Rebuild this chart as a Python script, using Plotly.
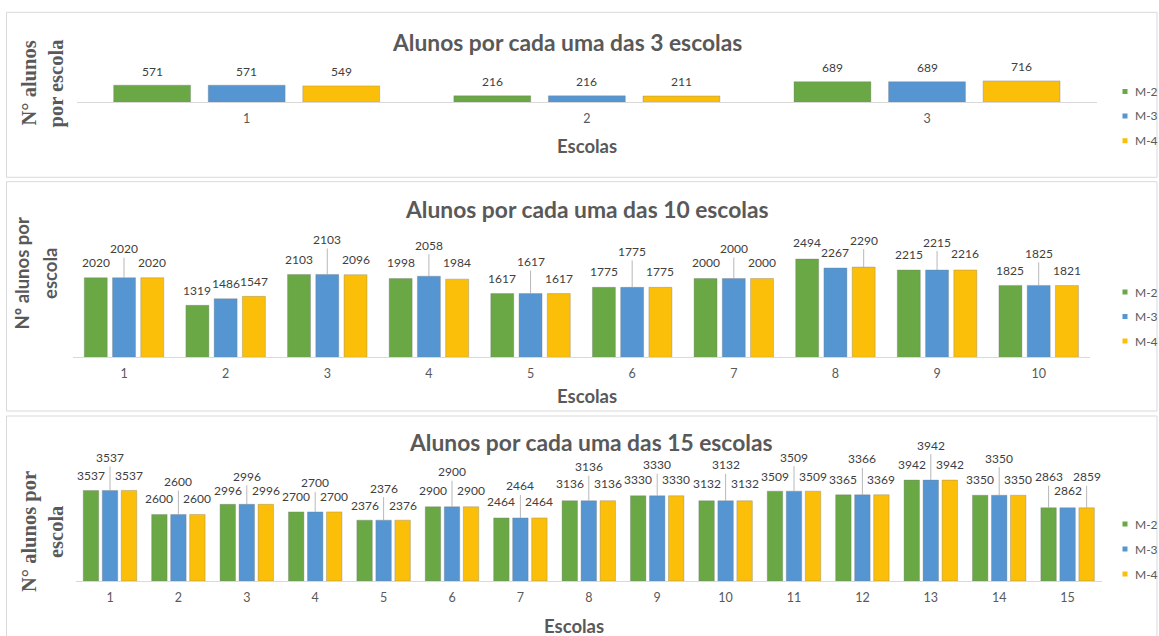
import plotly.graph_objects as go

W, H = 1159, 636

# ---- data -------------------------------------------------------------
series_names = ["M-2", "M-3", "M-4"]
series_colors = ["#69a845", "#5596d2", "#fbbf0a"]

escolas_3 = ["1", "2", "3"]
m2_3 = [571, 216, 689]
m3_3 = [571, 216, 689]
m4_3 = [549, 211, 716]

escolas_10 = ["1", "2", "3", "4", "5", "6", "7", "8", "9", "10"]
m2_10 = [2020, 1319, 2103, 1998, 1617, 1775, 2000, 2494, 2215, 1825]
m3_10 = [2020, 1486, 2103, 2058, 1617, 1775, 2000, 2267, 2215, 1825]
m4_10 = [2020, 1547, 2096, 1984, 1617, 1775, 2000, 2290, 2216, 1821]

escolas_15 = ["1", "2", "3", "4", "5", "6", "7", "8", "9", "10",
              "11", "12", "13", "14", "15"]
m2_15 = [3537, 2600, 2996, 2700, 2376, 2900, 2464, 3136, 3330, 3132, 3509, 3365, 3942, 3350, 2863]
m3_15 = [3537, 2600, 2996, 2700, 2376, 2900, 2464, 3136, 3330, 3132, 3509, 3366, 3942, 3350, 2862]
m4_15 = [3537, 2600, 2996, 2700, 2376, 2900, 2464, 3136, 3330, 3132, 3509, 3369, 3942, 3350, 2859]

# ---- label placement (pixels above bar top; tall ones get a leader line) --
lift_3 = [[14, 14, 14], [14, 14, 14], [14, 14, 14]]
lift_10 = [
    [15, 15, 15, 16, 15, 16, 16, 17, 16, 15],
    [29, 15, 35, 31, 32, 36, 30, 15, 28, 32],
    [15, 15, 15, 17, 15, 16, 16, 27, 16, 15],
]
lift_15 = [
    [15, 16, 14, 15, 15, 16, 16, 17, 16, 17, 15, 15, 16, 16, 31],
    [33, 33, 28, 29, 32, 35, 32, 34, 31, 36, 34, 36, 35, 37, 17],
    [15, 16, 14, 15, 15, 16, 16, 17, 16, 17, 15, 15, 16, 16, 31],
]

# ---- panel geometry (pixels) --------------------------------------------
panels = [
    dict(title="Alunos por cada uma das 3 escolas", cats=escolas_3,
         vals=[m2_3, m3_3, m4_3], lifts=lift_3,
         x0=76.6, x1=1097.1, base=102.3, top=58, ppu=0.0299,
         box=(6.5, 12.3, 1157, 177.3),
         title_xy=(567, 42), xtitle_xy=(587, 146),
         ytitle=["N° alunos", "por escola"], ytitle_x=(28, 56), ytitle_y=83.5,
         yfont="Liberation Serif", ysize=20.5, legend_y=(91.5, 116, 140.7)),
    dict(title="Alunos por cada uma das 10 escolas", cats=escolas_10,
         vals=[m2_10, m3_10, m4_10], lifts=lift_10,
         x0=73.2, x1=1089.5, base=357.3, top=236, ppu=0.0394,
         box=(6.5, 181.7, 1157, 411),
         title_xy=(587, 209), xtitle_xy=(586.5, 396),
         ytitle=["Nº alunos por", "escola"], ytitle_x=(21.5, 50), ytitle_y=274,
         yfont="Lato", ysize=18.5, legend_y=(292, 316.5, 341)),
    dict(title="Alunos por cada uma das 15 escolas", cats=escolas_15,
         vals=[m2_15, m3_15, m4_15], lifts=lift_15,
         x0=75.8, x1=1101.8, base=581, top=462, ppu=0.0256,
         box=(6.5, 416, 1157, 660),
         title_xy=(590.6, 442), xtitle_xy=(574, 626),
         ytitle=["N° alunos por", "escola"], ytitle_x=(29, 56), ytitle_y=532,
         yfont="Liberation Serif", ysize=20.5, legend_y=(524, 549, 574)),
]

BAR_W = 0.226
BAR_GAP = 0.052
OFFSETS = [-1.5 * BAR_W - BAR_GAP + k * (BAR_W + BAR_GAP) for k in range(3)]

TEXT_GRAY = "#595959"
LABEL_GRAY = "#404040"
LINE_GRAY = "#d9d9d9"


def px_x(x):
    return x / W


def px_y(y):
    return 1 - y / H


fig = go.Figure()
annotations = []
shapes = []
layout_axes = {}

for p_i, p in enumerate(panels):
    suffix = "" if p_i == 0 else str(p_i + 1)
    xa, ya = "x" + suffix, "y" + suffix
    n = len(p["cats"])
    positions = list(range(1, n + 1))

    for k, (name, color) in enumerate(zip(series_names, series_colors)):
        fig.add_trace(go.Bar(
            x=positions, y=p["vals"][k], name=name,
            width=BAR_W, offset=OFFSETS[k],
            marker=dict(color=color, line=dict(color="rgba(120,120,120,0.35)", width=1)),
            xaxis=xa, yaxis=ya, showlegend=False,
        ))
        # data labels
        for i, v in enumerate(p["vals"][k]):
            lift = p["lifts"][k][i]
            xc = positions[i] + OFFSETS[k] + BAR_W / 2
            common = dict(x=xc, y=v, xref=xa, yref=ya, text=str(v),
                          font=dict(family="Lato", size=12, color=LABEL_GRAY))
            if lift > 22:
                annotations.append(dict(common, showarrow=True, arrowhead=0,
                                        arrowwidth=0.8, arrowcolor="#a6a6a6",
                                        ax=0, ay=-lift, standoff=0))
            else:
                annotations.append(dict(common, showarrow=False, yshift=lift))

    ymax = (p["base"] - p["top"]) / p["ppu"]
    layout_axes["xaxis" + suffix] = dict(
        domain=[px_x(p["x0"]), px_x(p["x1"])], anchor=ya,
        range=[0.5, n + 0.5], tickvals=positions, ticktext=p["cats"],
        showline=True, linecolor=LINE_GRAY, linewidth=1,
        showgrid=False, zeroline=False, ticks="", ticklabelstandoff=5,
        tickfont=dict(family="Lato", size=12.5, color=TEXT_GRAY), fixedrange=True,
    )
    layout_axes["yaxis" + suffix] = dict(
        domain=[px_y(p["base"]), px_y(p["top"])], anchor=xa,
        range=[0, ymax], visible=False, showgrid=False, zeroline=False,
        fixedrange=True,
    )

    # panel frame
    bx0, by0, bx1, by1 = p["box"]
    shapes.append(dict(type="rect", xref="paper", yref="paper",
                       x0=px_x(bx0), x1=px_x(bx1), y0=px_y(by1), y1=px_y(by0),
                       line=dict(color=LINE_GRAY, width=1), layer="below"))

    # chart title
    annotations.append(dict(xref="paper", yref="paper", x=px_x(p["title_xy"][0]),
                            y=px_y(p["title_xy"][1]), text="<b>%s</b>" % p["title"],
                            showarrow=False, xanchor="center", yanchor="middle",
                            font=dict(family="Lato", size=22.8, color=TEXT_GRAY)))
    # x axis title
    annotations.append(dict(xref="paper", yref="paper", x=px_x(p["xtitle_xy"][0]),
                            y=px_y(p["xtitle_xy"][1]), text="<b>Escolas</b>",
                            showarrow=False, xanchor="center", yanchor="middle",
                            font=dict(family="Lato", size=18.5, color=TEXT_GRAY)))
    # y axis title, two rotated lines
    for line_txt, lx in zip(p["ytitle"], p["ytitle_x"]):
        annotations.append(dict(xref="paper", yref="paper", x=px_x(lx),
                                y=px_y(p["ytitle_y"]), text="<b>%s</b>" % line_txt,
                                showarrow=False, textangle=-90,
                                xanchor="center", yanchor="middle",
                                font=dict(family=p["yfont"], size=p["ysize"], color=TEXT_GRAY)))

    # legend
    for k, (name, color) in enumerate(zip(series_names, series_colors)):
        ly = p["legend_y"][k]
        shapes.append(dict(type="rect", xref="paper", yref="paper",
                           x0=px_x(1122.5), x1=px_x(1127.5),
                           y0=px_y(ly + 2.5), y1=px_y(ly - 2.5),
                           fillcolor=color, line=dict(width=0)))
        annotations.append(dict(xref="paper", yref="paper", x=px_x(1132.5),
                                y=px_y(ly), text=name, showarrow=False,
                                xanchor="left", yanchor="middle",
                                font=dict(family="Lato", size=12, color=TEXT_GRAY)))

fig.update_layout(
    width=W, height=H, margin=dict(l=0, r=0, t=0, b=0),
    paper_bgcolor="white", plot_bgcolor="white",
    barmode="overlay", showlegend=False,
    annotations=annotations, shapes=shapes,
    **layout_axes,
)

fig.write_html("out.html")
